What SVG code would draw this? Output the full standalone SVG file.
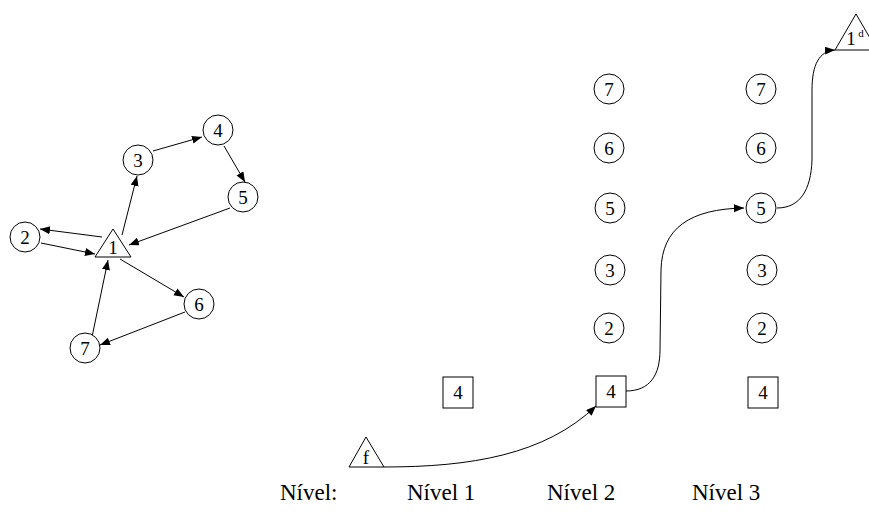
<svg xmlns="http://www.w3.org/2000/svg" width="869" height="516" viewBox="0 0 869 516">
  <style>
    .shape { fill: #fff; stroke: #000; stroke-width: 1; }
    .lbl { font-family: "Liberation Serif", "Times New Roman", serif; font-size: 19px; text-anchor: middle; fill: #000; }
    .cap { font-family: "Liberation Serif", "Times New Roman", serif; font-size: 23px; fill: #000; }
    .edge { fill: none; stroke: #000; stroke-width: 1; }
  </style>
  <defs>
    <marker id="arrow" markerUnits="userSpaceOnUse" markerWidth="12" markerHeight="10" refX="10" refY="4" orient="auto">
      <path d="M0,0 L10,4 L0,8 Z" fill="#000"/>
    </marker>
  </defs>
  <rect width="869" height="516" fill="#fff"/>

  <!-- connectors -->
  <g id="connectors">
    <!-- left graph -->
    <line class="edge" x1="102" y1="237" x2="40" y2="229" marker-end="url(#arrow)"/>
    <line class="edge" x1="41" y1="243" x2="95" y2="254" marker-end="url(#arrow)"/>
    <line class="edge" x1="122" y1="235" x2="137" y2="176" marker-end="url(#arrow)"/>
    <line class="edge" x1="153" y1="151" x2="202" y2="137" marker-end="url(#arrow)"/>
    <line class="edge" x1="224" y1="146" x2="245" y2="182" marker-end="url(#arrow)"/>
    <line class="edge" x1="230" y1="208" x2="129" y2="245" marker-end="url(#arrow)"/>
    <line class="edge" x1="120" y1="259" x2="184" y2="297" marker-end="url(#arrow)"/>
    <line class="edge" x1="185" y1="312" x2="100" y2="345" marker-end="url(#arrow)"/>
    <line class="edge" x1="92" y1="337" x2="108" y2="260" marker-end="url(#arrow)"/>
    <!-- level path -->
    <path class="edge" d="M384,467 C 470,467 545,455 596,406" marker-end="url(#arrow)"/>
    <path class="edge" d="M626,391 C 650,391 660,375 660,350 L661,270 C 662,228 690,209 744,208" marker-end="url(#arrow)"/>
    <path class="edge" d="M777,208 C 800,208 811,190 812,160 L812,90 C 812,65 819,51 835,50" marker-end="url(#arrow)"/>
  </g>

  <!-- left graph nodes -->
  <g id="g-n1">
    <polygon class="shape" points="113,229 95,257 131,257"/>
    <text class="lbl" x="113" y="254">1</text>
  </g>
  <g id="g-n2">
    <circle class="shape" cx="25" cy="237" r="15"/>
    <text class="lbl" x="25" y="244">2</text>
  </g>
  <g id="g-n3">
    <circle class="shape" cx="138" cy="160" r="15"/>
    <text class="lbl" x="138" y="167">3</text>
  </g>
  <g id="g-n4">
    <circle class="shape" cx="218" cy="130" r="15"/>
    <text class="lbl" x="218" y="137">4</text>
  </g>
  <g id="g-n5">
    <circle class="shape" cx="243" cy="197" r="15"/>
    <text class="lbl" x="243" y="204">5</text>
  </g>
  <g id="g-n6">
    <circle class="shape" cx="199" cy="304" r="15"/>
    <text class="lbl" x="199" y="311">6</text>
  </g>
  <g id="g-n7">
    <circle class="shape" cx="85" cy="348" r="15"/>
    <text class="lbl" x="85" y="355">7</text>
  </g>

  <!-- level 1 -->
  <g id="l1-4">
    <rect class="shape" x="443" y="377" width="30" height="31"/>
    <text class="lbl" x="458" y="399">4</text>
  </g>
  <g id="src-f">
    <polygon class="shape" points="366,437 349,467 384,467"/>
    <text class="lbl" x="366" y="464">f</text>
  </g>

  <!-- level 2 -->
  <g id="l2-7"><circle class="shape" cx="609" cy="89" r="15"/><text class="lbl" x="609" y="96">7</text></g>
  <g id="l2-6"><circle class="shape" cx="609" cy="148" r="15"/><text class="lbl" x="609" y="155">6</text></g>
  <g id="l2-5"><circle class="shape" cx="610" cy="208" r="15"/><text class="lbl" x="610" y="215">5</text></g>
  <g id="l2-3"><circle class="shape" cx="610" cy="270" r="15"/><text class="lbl" x="610" y="277">3</text></g>
  <g id="l2-2"><circle class="shape" cx="609" cy="328" r="15"/><text class="lbl" x="609" y="335">2</text></g>
  <g id="l2-4"><rect class="shape" x="596" y="376" width="30" height="31"/><text class="lbl" x="611" y="398">4</text></g>

  <!-- level 3 -->
  <g id="l3-7"><circle class="shape" cx="761" cy="89" r="15"/><text class="lbl" x="761" y="96">7</text></g>
  <g id="l3-6"><circle class="shape" cx="761" cy="148" r="15"/><text class="lbl" x="761" y="155">6</text></g>
  <g id="l3-5"><circle class="shape" cx="761" cy="208" r="15"/><text class="lbl" x="761" y="215">5</text></g>
  <g id="l3-3"><circle class="shape" cx="762" cy="270" r="15"/><text class="lbl" x="762" y="277">3</text></g>
  <g id="l3-2"><circle class="shape" cx="762" cy="328" r="15"/><text class="lbl" x="762" y="335">2</text></g>
  <g id="l3-4"><rect class="shape" x="748" y="377" width="30" height="31"/><text class="lbl" x="763" y="399">4</text></g>

  <!-- destination -->
  <g id="dst-1d">
    <polygon class="shape" points="856,14 835,50 877,50"/>
    <text class="lbl" x="851" y="45">1</text>
    <text class="lbl" x="861" y="37" style="font-size:11px">d</text>
  </g>

  <!-- level captions -->
  <g id="captions">
    <text class="cap" x="280" y="500">Nível:</text>
    <text class="cap" x="407" y="500">Nível 1</text>
    <text class="cap" x="547" y="500">Nível 2</text>
    <text class="cap" x="692" y="500">Nível 3</text>
  </g>
</svg>
